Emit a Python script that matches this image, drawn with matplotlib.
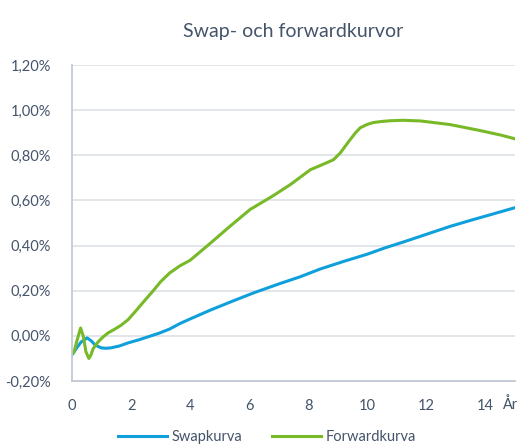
import matplotlib.pyplot as plt
from matplotlib.ticker import FuncFormatter

plt.rcParams['font.family'] = ['Lato', 'DejaVu Sans']

# values (år, procent)
swap_x = [0.0, 0.15, 0.31, 0.51, 0.65, 0.78, 0.98, 1.15, 1.32, 1.6, 1.9, 2.25, 2.58,
          2.95, 3.3, 3.66, 4.0, 4.7, 5.4, 6.14, 7.0, 7.73, 8.4, 9.2, 10.0, 10.6,
          11.2, 12.0, 12.8, 13.5, 14.2, 15.0]
swap_y = [-0.084, -0.055, -0.027, -0.009, -0.022, -0.04, -0.053, -0.055, -0.053,
          -0.045, -0.031, -0.018, -0.004, 0.012, 0.03, 0.055, 0.075, 0.115, 0.152,
          0.19, 0.23, 0.262, 0.296, 0.33, 0.362, 0.39, 0.415, 0.45, 0.485, 0.512,
          0.538, 0.568]

fwd_x = [0.0, 0.07, 0.17, 0.29, 0.38, 0.47, 0.57, 0.64, 0.71, 0.88, 1.05, 1.22,
         1.45, 1.66, 1.9, 2.17, 2.45, 2.75, 3.0, 3.3, 3.65, 4.0, 4.68, 5.3, 6.03,
         6.8, 7.39, 8.07, 8.5, 8.85, 9.08, 9.25, 9.42, 9.6, 9.76, 10.0, 10.2, 10.5,
         10.78, 11.2, 11.8, 12.8, 13.8, 14.5, 15.0]
fwd_y = [-0.08, -0.07, -0.02, 0.035, 0.0, -0.07, -0.10, -0.085, -0.058, -0.027,
         -0.005, 0.013, 0.03, 0.047, 0.072, 0.112, 0.155, 0.2, 0.24, 0.278, 0.31,
         0.335, 0.41, 0.48, 0.56, 0.62, 0.67, 0.736, 0.76, 0.78, 0.81, 0.84, 0.87,
         0.9, 0.922, 0.937, 0.945, 0.95, 0.953, 0.955, 0.952, 0.936, 0.91, 0.89,
         0.873]

x_ticks = [0, 2, 4, 6, 8, 10, 12, 14]
y_ticks = [-0.2, 0.0, 0.2, 0.4, 0.6, 0.8, 1.0, 1.2]

text_col = '#44546A'

fig = plt.figure(figsize=(5.2, 4.46), dpi=100)
ax = fig.add_axes([0.1385, 0.1457, 0.852, 0.7086])

ax.plot(swap_x, swap_y, color='#0FA0DC', lw=2.2, solid_joinstyle='round',
        label='Swapkurva')
ax.plot(fwd_x, fwd_y, color='#78B928', lw=2.2, solid_joinstyle='round',
        label='Forwardkurva')

ax.set_xlim(0, 15.0)
ax.set_ylim(-0.2, 1.2)
ax.set_xticks(x_ticks)
ax.set_yticks(y_ticks)
ax.yaxis.set_major_formatter(FuncFormatter(lambda v, p: ('%.2f%%' % v).replace('.', ',')))
ax.tick_params(length=0, labelsize=10.5, colors=text_col)
ax.tick_params(axis='y', pad=15)
ax.tick_params(axis='x', pad=13)

ax.grid(axis='y', color='#DDE1E7', lw=1.2)
ax.set_axisbelow(True)
for s in ['top', 'right']:
    ax.spines[s].set_visible(False)
for s in ['left', 'bottom']:
    ax.spines[s].set_color('#C3C9D3')
    ax.spines[s].set_linewidth(1.3)

ax.text(1.005, -0.075, 'År', transform=ax.transAxes, ha='right', va='center',
        fontsize=10.5, color=text_col)

ax.set_title('Swap- och forwardkurvor', fontsize=14, color=text_col, pad=20)

ax.legend(loc='upper center', bbox_to_anchor=(0.44, -0.138), ncol=2, frameon=False,
          fontsize=10.5, labelcolor=text_col, handlelength=3.4, columnspacing=2.0,
          handletextpad=0.3, borderaxespad=0)

fig.savefig('out.png', dpi=100)
